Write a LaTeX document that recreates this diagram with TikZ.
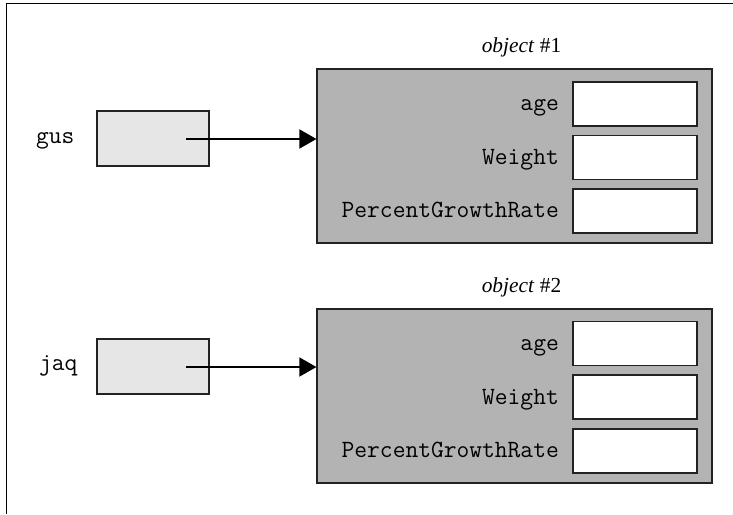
\documentclass[tikz,border=0pt]{standalone}
\usepackage{fontspec}
\setmainfont{Liberation Serif}
\usetikzlibrary{arrows.meta}
\definecolor{ptrfill}{HTML}{E6E6E6}
\definecolor{objfill}{HTML}{B3B3B3}
\definecolor{edge}{HTML}{222222}
\begin{document}
\begin{tikzpicture}[x=1pt,y=-1pt,
  ptrbox/.style={draw=edge,line width=1.2pt,fill=ptrfill,minimum width=112pt,minimum height=55pt,inner sep=0pt},
  objbox/.style={draw=edge,line width=1.2pt,fill=objfill,minimum width=395pt,minimum height=174pt,inner sep=0pt},
  slot/.style={draw=edge,line width=1.2pt,fill=white,minimum width=124pt,minimum height=44pt,inner sep=0pt},
  lbl/.style={font=\fontsize{24.8}{28}\selectfont\ttfamily,inner sep=0pt},
  ttl/.style={font=\fontsize{21.4}{25}\selectfont,inner sep=0pt},
  ptr/.style={line width=1.6pt,-{Triangle[length=17pt,width=19pt]}}]
\useasboundingbox (0,0) rectangle (733,514);
\draw[line width=1.6pt] (6.5,514) -- (6.5,3.5) -- (733,3.5);
% object 1
\node[objbox] (obj1) at (514.5,156) {};
\node[slot] (o1a) at (635,104) {};
\node[slot] (o1w) at (635,157.5) {};
\node[slot] (o1p) at (635,211) {};
\node[lbl,anchor=base east] (l1a) at (559,110) {age};
\node[lbl,anchor=base east] (l1w) at (559,164) {Weight};
\node[lbl,anchor=base east] (l1p) at (559,217) {PercentGrowthRate};
\node[ttl,anchor=base] (t1) at (521.5,52) {\textit{object} \#1};
% object 2
\node[objbox] (obj2) at (514.5,396) {};
\node[slot] (o2a) at (635,343.5) {};
\node[slot] (o2w) at (635,397) {};
\node[slot] (o2p) at (635,451) {};
\node[lbl,anchor=base east] (l2a) at (559,350) {age};
\node[lbl,anchor=base east] (l2w) at (559,404) {Weight};
\node[lbl,anchor=base east] (l2p) at (559,457) {PercentGrowthRate};
\node[ttl,anchor=base] (t2) at (521.5,292) {\textit{object} \#2};
% pointers
\node[ptrbox] (gus) at (153,138.5) {};
\node[ptrbox] (jaq) at (153,366.5) {};
\node[lbl,anchor=base west] (gusl) at (36,143) {gus};
\node[lbl,anchor=base west] (jaql) at (39,370) {jaq};
\coordinate (gusp) at (186,139);
\coordinate (jaqp) at (186,367);
\draw[ptr] (gusp) -- (gusp -| obj1.west);
\draw[ptr] (jaqp) -- (jaqp -| obj2.west);
\end{tikzpicture}
\end{document}
